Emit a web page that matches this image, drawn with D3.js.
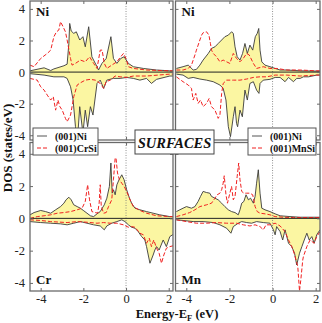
<!DOCTYPE html>
<head>
<meta charset="utf-8">
<title>Surface DOS</title>
<script src="https://cdn.jsdelivr.net/npm/d3@7"></script>
<style>
body { margin: 0; background: #fff; }
text { font-family: "Liberation Serif", "Times New Roman", serif; }
</style>
</head>
<body>
<svg id="chart" width="322" height="323"></svg>
<script>
//----------------------------DATA------------------------------//
// [energy (eV), DOS (states/eV)]; spin-down is negative
// top-left: Ni at (001)Ni surface vs Ni in (001)CrSi
var niUpA = [[-4.5,0.08],[-3.84,0.27],[-3.53,0.10],[-3.38,0.20],[-2.91,0.40],[-2.76,0.50],[-2.68,1.8],[-2.64,3.08],[-2.57,2.6],[-2.45,2.45],[-2.33,2.55],[-2.17,2.03],[-2.02,2.24],[-1.91,1.60],[-1.75,2.87],[-1.60,0.97],[-1.36,0.34],[-1.29,0.13],[-1.13,0.55],[-0.93,0.86],[-0.71,2.24],[-0.59,0.86],[-0.43,0.55],[-0.25,0.86],[-0.09,0.97],[0.11,0.55],[0.34,0.34],[0.81,0.23],[1.43,0.13],[2.05,0.08],[2.2,0.08]];
var niDnA = [[-4.5,-0.10],[-3.84,-0.19],[-3.38,-0.30],[-2.91,-0.30],[-2.76,-0.40],[-2.60,-0.93],[-2.48,-1.77],[-2.37,-3.46],[-2.29,-4.6],[-2.17,-2.19],[-2.02,-3.88],[-1.91,-2.41],[-1.80,-3.46],[-1.67,-2.19],[-1.55,-2.72],[-1.36,-0.72],[-1.21,-0.51],[-1.05,-1.03],[-0.90,-0.51],[-0.59,-0.40],[-0.28,-0.40],[0.03,-0.34],[0.34,-0.40],[0.65,-0.51],[0.96,-0.40],[1.19,-0.72],[1.43,-0.46],[2.05,-0.25],[2.2,-0.25]];
var crsiUpA = [[-4.5,0.44],[-4.31,0.34],[-4.00,0.86],[-3.69,1.18],[-3.53,1.39],[-3.38,2.24],[-3.26,2.55],[-3.15,2.66],[-3.07,3.19],[-2.95,2.87],[-2.84,2.55],[-2.76,2.03],[-2.60,0.86],[-2.53,0.44],[-2.37,0.55],[-2.14,0.76],[-1.91,0.65],[-1.71,0.97],[-1.52,0.55],[-1.36,0.23],[-1.21,1.39],[-1.12,1.39],[-1.02,0.55],[-0.90,0.23],[-0.67,0.44],[-0.43,0.65],[-0.25,0.97],[-0.12,1.18],[0.00,0.86],[0.11,0.34],[0.34,0.23],[0.96,0.13],[2.05,0.08],[2.2,0.08]];
var crsiDnA = [[-4.5,-0.40],[-4.16,-0.51],[-4.00,-0.93],[-3.84,-1.14],[-3.69,-1.46],[-3.53,-1.77],[-3.41,-1.56],[-3.30,-2.41],[-3.19,-1.77],[-3.10,-2.19],[-2.99,-2.41],[-2.84,-2.93],[-2.76,-3.14],[-2.60,-2.72],[-2.53,-2.19],[-2.45,-1.56],[-2.29,-0.82],[-2.14,-0.68],[-1.91,-0.51],[-1.67,-0.46],[-1.44,-0.51],[-1.21,-0.72],[-1.05,-1.03],[-0.93,-0.61],[-0.74,-0.51],[-0.51,-0.25],[-0.28,-0.30],[0.03,-0.34],[0.34,-0.25],[0.96,-0.25],[2.05,-0.13],[2.2,-0.13]];

// top-right: Ni at (001)Ni surface vs Ni in (001)MnSi
var niUpB = [[-4.46,0.23],[-4.15,0.34],[-3.91,0.44],[-3.68,0.13],[-3.53,0.17],[-3.37,0.44],[-3.22,0.76],[-2.98,1.18],[-2.83,1.50],[-2.67,1.60],[-2.52,1.81],[-2.36,2.03],[-2.21,2.24],[-2.05,2.34],[-1.90,2.55],[-1.82,2.45],[-1.74,1.60],[-1.64,0.97],[-1.51,0.76],[-1.39,1.18],[-1.28,1.81],[-1.17,1.18],[-1.05,1.71],[-0.92,1.39],[-0.80,2.24],[-0.71,2.45],[-0.64,2.76],[-0.58,1.39],[-0.50,0.65],[-0.35,0.44],[-0.12,0.34],[0.12,0.23],[0.35,0.13],[0.66,0.13],[1.28,0.08],[2.05,0.06],[2.2,0.06]];
var niDnB = [[-4.46,-0.13],[-4.15,-0.19],[-3.91,-0.40],[-3.68,-0.34],[-3.37,-0.44],[-3.06,-0.51],[-2.75,-0.61],[-2.44,-0.82],[-2.29,-1.03],[-2.16,-1.77],[-2.05,-3.46],[-1.95,-4.09],[-1.82,-2.83],[-1.74,-2.19],[-1.67,-3.25],[-1.62,-3.46],[-1.51,-2.41],[-1.40,-2.83],[-1.28,-1.14],[-1.17,-1.77],[-1.05,-0.72],[-0.89,-0.61],[-0.74,-1.14],[-0.63,-1.35],[-0.58,-0.72],[-0.43,-0.51],[-0.12,-0.46],[0.12,-0.34],[0.35,-0.34],[0.58,-0.61],[0.74,-0.34],[0.97,-0.61],[1.12,-0.40],[1.28,-0.40],[1.43,-0.30],[1.67,-0.30],[2.05,-0.19],[2.2,-0.19]];
var mnsiUpB = [[-4.46,0.13],[-4.15,0.13],[-3.91,0.23],[-3.76,0.44],[-3.68,0.76],[-3.60,1.08],[-3.53,1.39],[-3.45,1.71],[-3.37,2.03],[-3.29,2.34],[-3.22,2.49],[-3.06,2.55],[-2.95,2.34],[-2.88,1.81],[-2.83,1.39],[-2.75,1.18],[-2.60,0.97],[-2.44,0.65],[-2.29,0.76],[-2.13,0.65],[-1.98,0.55],[-1.82,1.18],[-1.67,0.86],[-1.51,0.65],[-1.36,0.86],[-1.20,1.18],[-1.08,1.08],[-0.89,0.55],[-0.74,0.23],[-0.43,0.34],[-0.12,0.23],[0.19,0.23],[0.66,0.13],[1.28,0.13],[2.05,0.08],[2.2,0.08]];
var mnsiDnB = [[-4.46,-0.30],[-4.15,-0.61],[-3.91,-0.82],[-3.76,-1.03],[-3.68,-1.77],[-3.56,-1.35],[-3.45,-1.98],[-3.34,-1.77],[-3.22,-2.19],[-3.06,-1.98],[-2.94,-1.67],[-2.83,-2.19],[-2.67,-2.41],[-2.52,-2.93],[-2.44,-2.72],[-2.36,-1.35],[-2.29,-0.72],[-2.13,-0.51],[-1.82,-0.51],[-1.51,-0.51],[-1.20,-0.44],[-0.89,-0.34],[-0.58,-0.30],[-0.27,-0.30],[0.12,-0.19],[0.66,-0.19],[1.28,-0.25],[2.05,-0.19],[2.2,-0.19]];

// bottom-left: Cr at (001)CrSi surface
var crUp = [[-4.5,0.22],[-4.31,0.36],[-4.00,0.49],[-3.77,0.42],[-3.53,0.32],[-3.30,0.53],[-3.07,0.73],[-2.91,0.94],[-2.81,1.15],[-2.68,1.31],[-2.57,1.15],[-2.45,0.84],[-2.29,0.73],[-2.14,0.63],[-1.98,0.47],[-1.83,0.32],[-1.67,0.16],[-1.52,0.11],[-1.36,0.28],[-1.21,0.42],[-1.02,0.84],[-0.90,1.25],[-0.78,1.98],[-0.71,3.43],[-0.65,1.56],[-0.59,1.77],[-0.51,1.46],[-0.43,2.08],[-0.33,2.39],[-0.20,2.70],[-0.09,2.39],[0.03,1.77],[0.16,1.25],[0.26,0.94],[0.42,0.63],[0.65,0.53],[0.96,0.42],[1.27,0.32],[1.58,0.22],[2.05,0.11],[2.2,0.11]];
var crDn = [[-4.5,-0.20],[-4.00,-0.26],[-3.53,-0.30],[-3.07,-0.34],[-2.76,-0.40],[-2.45,-0.30],[-2.14,-0.20],[-1.83,-0.30],[-1.52,-0.40],[-1.21,-0.47],[-1.02,-0.71],[-0.90,-0.47],[-0.67,-0.30],[-0.43,-0.20],[-0.20,-0.09],[-0.05,-0.20],[0.11,-0.40],[0.26,-0.55],[0.42,-0.61],[0.57,-0.82],[0.73,-1.13],[0.88,-1.34],[0.96,-1.75],[1.04,-2.27],[1.12,-2.78],[1.27,-2.27],[1.35,-1.96],[1.43,-1.75],[1.55,-1.96],[1.74,-1.34],[1.89,-1.75],[2.05,-1.13],[2.2,-1.0]];
var crsiUpC = [[-4.5,0.00],[-4.16,0.11],[-3.84,0.16],[-3.53,0.22],[-3.22,0.32],[-2.91,0.36],[-2.60,0.42],[-2.29,0.53],[-2.06,0.63],[-1.91,1.05],[-1.80,2.08],[-1.71,1.15],[-1.60,0.42],[-1.44,0.36],[-1.33,0.32],[-1.26,0.94],[-1.21,2.08],[-1.16,0.73],[-1.05,0.32],[-0.93,0.36],[-0.82,0.73],[-0.67,1.15],[-0.59,2.39],[-0.51,3.74],[-0.47,3.74],[-0.40,2.81],[-0.31,2.39],[-0.20,2.18],[-0.09,1.98],[0.03,1.67],[0.19,1.15],[0.34,0.73],[0.65,0.49],[0.96,0.32],[1.43,0.16],[2.05,0.11],[2.2,0.11]];
var crsiDnC = [[-4.5,-0.09],[-4.00,-0.13],[-3.53,-0.20],[-2.76,-0.26],[-2.29,-0.20],[-1.83,-0.24],[-1.36,-0.30],[-1.05,-0.26],[-0.74,-0.30],[-0.43,-0.30],[-0.12,-0.40],[0.11,-0.55],[0.26,-0.51],[0.42,-0.55],[0.65,-0.92],[0.81,-1.02],[0.96,-1.54],[1.09,-1.23],[1.19,-1.75],[1.30,-1.34],[1.43,-1.85],[1.55,-2.16],[1.66,-2.78],[1.77,-2.27],[1.89,-1.85],[2.05,-1.75],[2.2,-1.7]];

// bottom-right: Mn at (001)MnSi surface
var mnUp = [[-4.46,0.42],[-4.30,0.53],[-4.15,0.63],[-3.99,0.73],[-3.76,0.63],[-3.60,0.73],[-3.45,1.05],[-3.34,1.36],[-3.22,1.67],[-3.06,1.60],[-2.91,1.56],[-2.83,1.36],[-2.67,1.25],[-2.52,1.15],[-2.36,0.94],[-2.21,0.73],[-2.05,0.53],[-1.90,0.42],[-1.74,0.36],[-1.59,0.22],[-1.51,0.53],[-1.43,0.94],[-1.33,1.05],[-1.23,1.46],[-1.12,1.15],[-1.02,1.25],[-0.89,0.94],[-0.81,1.36],[-0.74,2.18],[-0.66,3.01],[-0.58,1.56],[-0.50,0.63],[-0.35,0.53],[-0.12,0.42],[0.12,0.28],[0.35,0.16],[0.81,0.11],[1.28,0.07],[2.05,0.07],[2.2,0.07]];
var mnDn = [[-4.46,-0.09],[-4.15,-0.13],[-3.68,-0.20],[-3.22,-0.20],[-2.75,-0.26],[-2.44,-0.40],[-2.13,-0.61],[-1.93,-0.92],[-1.82,-0.51],[-1.59,-0.30],[-1.43,-0.20],[-1.20,-0.26],[-0.97,-0.30],[-0.74,-0.20],[-0.43,-0.26],[-0.12,-0.30],[0.04,-0.71],[0.12,-1.02],[0.19,-0.51],[0.35,-0.82],[0.47,-1.34],[0.58,-0.71],[0.74,-1.54],[0.89,-1.75],[1.02,-2.16],[1.12,-2.89],[1.25,-2.16],[1.36,-1.75],[1.47,-1.34],[1.59,-0.92],[1.70,-1.34],[1.82,-1.13],[1.93,-1.54],[2.05,-1.02],[2.2,-0.71]];
var mnsiUpD = [[-4.46,0.11],[-4.15,0.22],[-3.84,0.36],[-3.60,0.53],[-3.37,0.73],[-3.06,0.84],[-2.83,0.94],[-2.67,1.25],[-2.57,1.46],[-2.44,1.56],[-2.36,1.77],[-2.29,2.18],[-2.24,2.64],[-2.16,1.46],[-2.09,0.94],[-1.98,1.56],[-1.90,1.98],[-1.82,1.15],[-1.74,1.36],[-1.64,2.6],[-1.57,3.43],[-1.51,2.39],[-1.43,1.67],[-1.33,1.56],[-1.20,1.56],[-1.05,1.56],[-0.92,1.46],[-0.81,0.73],[-0.71,0.42],[-0.58,0.32],[-0.35,0.28],[-0.12,0.22],[0.12,0.11],[0.50,0.07],[0.97,0.05],[2.05,0.05],[2.2,0.05]];
var mnsiDnD = [[-4.46,-0.09],[-3.99,-0.20],[-3.53,-0.30],[-3.06,-0.30],[-2.60,-0.26],[-2.13,-0.30],[-1.67,-0.30],[-1.36,-0.40],[-1.05,-0.47],[-0.81,-0.40],[-0.58,-0.51],[-0.43,-0.71],[-0.30,-0.40],[-0.12,-0.40],[0.12,-0.30],[0.35,-0.47],[0.58,-0.82],[0.74,-1.34],[0.89,-1.75],[1.00,-2.16],[1.09,-2.58],[1.17,-2.99],[1.25,-4.5],[1.31,-3.82],[1.40,-2.58],[1.43,-2.37],[1.59,-1.75],[1.74,-1.34],[1.93,-1.54],[2.05,-1.13],[2.2,-0.82]];

var yTicks = [-4, -2, 0, 2, 4];
var xTicks = [-4, -2, 0, 2];
var legendLabels = [["(001)Ni", "(001)CrSi"], ["(001)Ni", "(001)MnSi"]];

//---------------------------LAYOUT-----------------------------//
var svg = d3.select("svg");
var cols = [{x0: 30, x1: 173}, {x0: 175.5, x1: 320}];
var rows = [{y0: 1, y1: 140, dom: [-4.3, 4.5]}, {y0: 142.5, y1: 291, dom: [-4.5, 4.7]}];

var panels = [
    {c: 0, r: 0, name: "Ni", up: niUpA, dn: niDnA, rup: crsiUpA, rdn: crsiDnA},
    {c: 1, r: 0, name: "Ni", up: niUpB, dn: niDnB, rup: mnsiUpB, rdn: mnsiDnB},
    {c: 0, r: 1, name: "Cr", up: crUp, dn: crDn, rup: crsiUpC, rdn: crsiDnC},
    {c: 1, r: 1, name: "Mn", up: mnUp, dn: mnDn, rup: mnsiUpD, rdn: mnsiDnD}
];

var frameColor = "#6a6a6a";
var fillColor = "#fbf6a2";

panels.forEach(function (p, i) {
    var col = cols[p.c], row = rows[p.r];
    var x = d3.scaleLinear().domain([-4.5, 2.2]).range([col.x0, col.x1]);
    var y = d3.scaleLinear().domain(row.dom).range([row.y1, row.y0]);

    var g = svg.append("g");
    g.append("clipPath").attr("id", "clip" + i)
        .append("rect")
        .attr("x", col.x0).attr("y", row.y0)
        .attr("width", col.x1 - col.x0).attr("height", row.y1 - row.y0);

    var body = g.append("g").attr("clip-path", "url(#clip" + i + ")");

    var area = d3.area()
        .x(function (d) { return x(d[0]); })
        .y0(y(0))
        .y1(function (d) { return y(d[1]); });
    var line = d3.line()
        .x(function (d) { return x(d[0]); })
        .y(function (d) { return y(d[1]); });

    // yellow filled surface DOS
    [p.up, p.dn].forEach(function (s) {
        body.append("path").attr("d", area(s))
            .attr("fill", fillColor).attr("stroke", "none");
    });
    // fermi level
    body.append("line")
        .attr("x1", x(0)).attr("x2", x(0))
        .attr("y1", row.y0).attr("y2", row.y1)
        .attr("stroke", "#777").attr("stroke-width", 0.8)
        .attr("stroke-dasharray", "1,1.5");
    [p.up, p.dn].forEach(function (s) {
        body.append("path").attr("d", line(s))
            .attr("fill", "none").attr("stroke", "#3a3a3a").attr("stroke-width", 0.9);
    });
    [p.rup, p.rdn].forEach(function (s) {
        body.append("path").attr("d", line(s))
            .attr("fill", "none").attr("stroke", "#f02020").attr("stroke-width", 1)
            .attr("stroke-dasharray", "4,2");
    });
    // zero line
    body.append("line")
        .attr("x1", col.x0).attr("x2", col.x1)
        .attr("y1", y(0)).attr("y2", y(0))
        .attr("stroke", "#222").attr("stroke-width", 1);

    // axes: inward ticks on all four sides
    var fmt = function (d) { return String(d); };
    var left = g.append("g").attr("transform", "translate(" + col.x0 + ",0)")
        .call(d3.axisLeft(y).tickValues(yTicks).tickSize(-3).tickPadding(5)
            .tickFormat(p.c === 0 ? fmt : function () { return ""; }));
    var right = g.append("g").attr("transform", "translate(" + col.x1 + ",0)")
        .call(d3.axisRight(y).tickValues(yTicks).tickSize(-3).tickFormat(""));
    var bottom = g.append("g").attr("transform", "translate(0," + row.y1 + ")")
        .call(d3.axisBottom(x).tickValues(xTicks).tickSize(-3).tickPadding(3)
            .tickFormat(p.r === 1 ? fmt : function () { return ""; }));
    var top = g.append("g").attr("transform", "translate(0," + row.y0 + ")")
        .call(d3.axisTop(x).tickValues(xTicks).tickSize(-3).tickFormat(""));
    [left, right, bottom, top].forEach(function (a) {
        a.select(".domain").remove();
        a.selectAll("line").attr("stroke", frameColor);
        a.selectAll("text").attr("fill", "#222")
            .style("font-family", "'Liberation Serif', serif").style("font-size", "12.5px");
    });

    g.append("rect")
        .attr("x", col.x0).attr("y", row.y0)
        .attr("width", col.x1 - col.x0).attr("height", row.y1 - row.y0)
        .attr("fill", "none").attr("stroke", frameColor).attr("stroke-width", 1.3);

    g.append("text")
        .attr("x", col.x0 + 6)
        .attr("y", p.r === 0 ? row.y0 + 15 : row.y1 - 7)
        .attr("font-weight", "bold").attr("font-size", "13px").attr("fill", "#111")
        .text(p.name);
});

//---------------------------LEGENDS----------------------------//
var legendBoxes = [{x: 33, w: 65}, {x: 248, w: 68}];
legendBoxes.forEach(function (b, i) {
    var lg = svg.append("g").attr("transform", "translate(" + b.x + ",128)");
    lg.append("rect").attr("width", b.w).attr("height", 27)
        .attr("fill", "#fff").attr("stroke", "#555").attr("stroke-width", 1);
    lg.append("line").attr("x1", 4).attr("x2", 14).attr("y1", 8).attr("y2", 8)
        .attr("stroke", "#555").attr("stroke-width", 1);
    lg.append("line").attr("x1", 4).attr("x2", 14).attr("y1", 20).attr("y2", 20)
        .attr("stroke", "#f02020").attr("stroke-width", 1).attr("stroke-dasharray", "4,2");
    legendLabels[i].forEach(function (t, k) {
        lg.append("text").attr("x", 22).attr("y", 11.5 + k * 12)
            .attr("font-weight", "bold").attr("font-size", "10px").attr("fill", "#111")
            .text(t);
    });
});

var sf = svg.append("g").attr("transform", "translate(135,130)");
sf.append("rect").attr("width", 79).attr("height", 24)
    .attr("fill", "#fff").attr("stroke", "#444").attr("stroke-width", 1);
sf.append("text").attr("x", 39.5).attr("y", 17.5).attr("text-anchor", "middle")
    .attr("font-weight", "bold").attr("font-style", "italic").attr("font-size", "14.5px")
    .attr("fill", "#111").text("SURFACES");

//---------------------------TITLES-----------------------------//
var xl = svg.append("text").attr("x", 177).attr("y", 318).attr("text-anchor", "middle")
    .attr("font-weight", "bold").attr("font-size", "12.5px").attr("fill", "#111");
xl.append("tspan").text("Energy-E");
xl.append("tspan").attr("font-size", "8.5px").attr("dy", 2.5).text("F");
xl.append("tspan").attr("dy", -2.5).text(" (eV)");

svg.append("text")
    .attr("transform", "translate(12,148) rotate(-90)")
    .attr("text-anchor", "middle")
    .attr("font-weight", "bold").attr("font-size", "13px").attr("fill", "#111")
    .text("DOS (states/eV)");
</script>
</body>
